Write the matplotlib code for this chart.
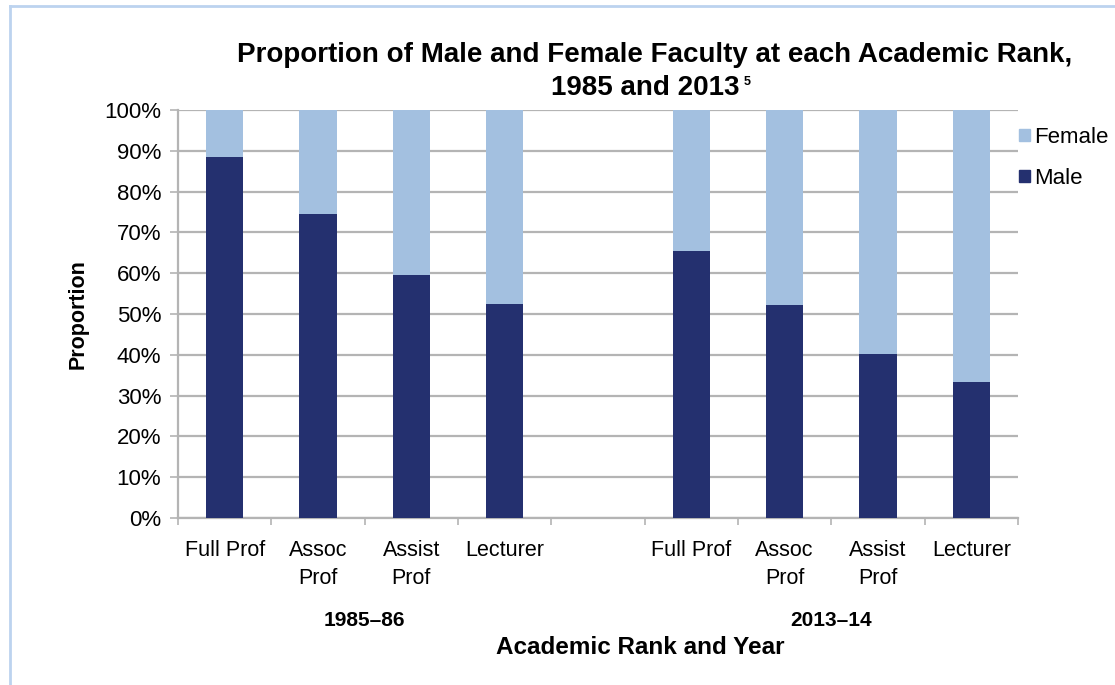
import matplotlib
matplotlib.use("Agg")
import matplotlib.pyplot as plt
from matplotlib.lines import Line2D
from matplotlib.patches import Patch
from matplotlib.ticker import PercentFormatter

# data
ranks = ["Full Prof", "Assoc\nProf", "Assist\nProf", "Lecturer"]
years = ["1985\u201386", "2013\u201314"]
male_1985 = [88.5, 74.5, 59.5, 52.5]
female_1985 = [11.5, 25.5, 40.5, 47.5]
male_2013 = [65.5, 52.3, 40.3, 33.4]
female_2013 = [34.5, 47.7, 59.7, 66.6]

MALE_COLOR = "#24306f"
FEMALE_COLOR = "#a3c0e0"
GRID_COLOR = "#b4b4b4"

plt.rcParams["font.family"] = ["Liberation Sans", "DejaVu Sans"]

W, H = 1115, 685
fig = plt.figure(figsize=(W / 100, H / 100), dpi=100)


def fx(px):
    return px / W


def fy(py):
    return 1 - py / H


ax = fig.add_axes([fx(178), fy(518), fx(1018) - fx(178), fy(110) - fy(518)])

# one slot per rank and year, with an empty slot between the two years
labels = ranks + [""] + ranks
male = male_1985 + [0] + male_2013
female = female_1985 + [0] + female_2013
pos = list(range(len(labels)))

ax.bar(pos, male, width=0.4, color=MALE_COLOR, zorder=3)
ax.bar(pos, female, width=0.4, bottom=male, color=FEMALE_COLOR, zorder=3)

ax.set_xlim(-0.5, len(labels) - 0.5)
ax.set_ylim(0, 100)
ax.set_yticks(range(0, 101, 10))
ax.yaxis.set_major_formatter(PercentFormatter(decimals=0))
ax.grid(axis="y", color=GRID_COLOR, linewidth=1.6, zorder=0)

ax.set_xticks(pos)
ax.set_xticklabels(labels, linespacing=1.4)
ax.set_xticks([p - 0.5 for p in pos] + [pos[-1] + 0.5], minor=True)
ax.tick_params(axis="x", which="major", length=0, pad=16, labelsize=15.5)
ax.tick_params(axis="x", which="minor", length=5, width=1.2, color=GRID_COLOR)
ax.tick_params(axis="y", length=6, width=1.2, color=GRID_COLOR, labelsize=16, pad=6)
for lab in ax.get_xticklabels():
    lab.set_verticalalignment("top")

for side in ["top", "right"]:
    ax.spines[side].set_visible(False)
for side in ["left", "bottom"]:
    ax.spines[side].set_color(GRID_COLOR)
    ax.spines[side].set_linewidth(1.6)

ax.set_ylabel("Proportion", fontsize=15.5, fontweight="bold", labelpad=11)

# year group labels under the tick labels
ax.text(1.5, -0.25, years[0], transform=ax.get_xaxis_transform(),
        ha="center", va="center", fontsize=15, fontweight="bold")
ax.text(6.5, -0.25, years[1], transform=ax.get_xaxis_transform(),
        ha="center", va="center", fontsize=15, fontweight="bold")

fig.text(fx(640), fy(648), "Academic Rank and Year", ha="center", va="center",
         fontsize=17.5, fontweight="bold")

fig.text(fx(655), fy(55), "Proportion of Male and Female Faculty at each Academic Rank,",
         ha="center", va="center", fontsize=20, fontweight="bold")
fig.text(fx(645), fy(88), "1985 and 2013", ha="center", va="center",
         fontsize=20, fontweight="bold")
fig.text(fx(744), fy(82), "5", ha="left", va="center", fontsize=9, fontweight="bold")

handles = [Patch(color=FEMALE_COLOR, label="Female"),
           Patch(color=MALE_COLOR, label="Male")]
fig.legend(handles=handles, loc="upper left", bbox_to_anchor=(fx(1010), fy(118)),
           frameon=False, fontsize=16, handlelength=0.5, handleheight=0.5,
           handletextpad=0.2, labelspacing=0.9, borderaxespad=0)

# light blue frame along the top and left of the image
fig.add_artist(Line2D([fx(10), fx(10)], [fy(6), 0], color="#bcd3ef", linewidth=2))
fig.add_artist(Line2D([fx(10), 1], [fy(6), fy(6)], color="#bcd3ef", linewidth=2))

fig.savefig("out.png", dpi=100, facecolor="white")
